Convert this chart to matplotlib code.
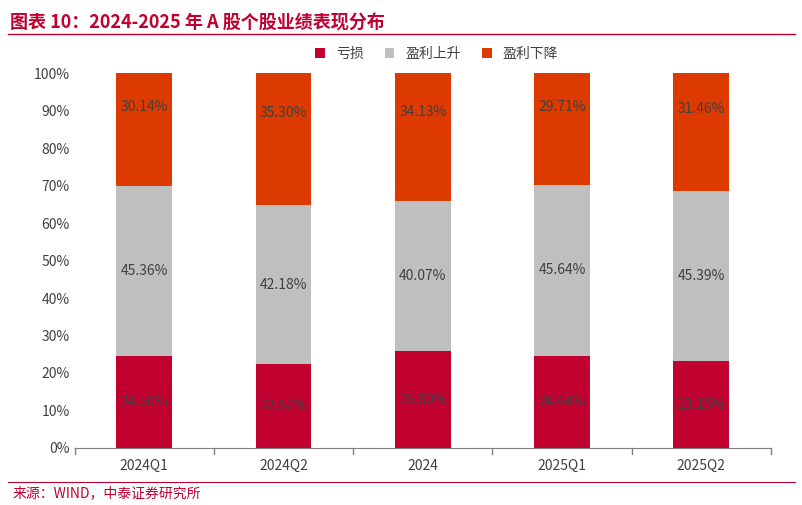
import matplotlib
matplotlib.use("Agg")
import matplotlib.pyplot as plt
from matplotlib.lines import Line2D
from matplotlib.ticker import PercentFormatter

plt.rcParams['font.family'] = ['Noto Sans CJK SC', 'DejaVu Sans']

categories = ["2024Q1", "2024Q2", "2024", "2025Q1", "2025Q2"]
loss = [24.50, 22.52, 25.80, 24.64, 23.15]
up = [45.36, 42.18, 40.07, 45.64, 45.39]
down = [30.14, 35.30, 34.13, 29.71, 31.46]
series_names = ["亏损", "盈利上升", "盈利下降"]
colors = ["#C0002F", "#BFBFBF", "#DD3A00"]

fig = plt.figure(figsize=(8.03, 5.05), dpi=100)
ax = fig.add_axes([0.093, 0.113, 0.867, 0.742])
x = range(len(categories))
bottom = [0]*len(categories)
for vals, name, c in zip([loss, up, down], series_names, colors):
    bars = ax.bar(x, vals, 0.4, bottom=bottom, color=c, label=name)
    for xi, v, b in zip(x, vals, bottom):
        ax.text(xi, b + v/2 + (v*0.2 if name == "盈利下降" else 0), f"{v:.2f}%",
                ha='center', va='center', fontsize=10, color='#404040')
    bottom = [b+v for b, v in zip(bottom, vals)]

ax.set_ylim(0, 100)
ax.set_xlim(-0.5, 4.5)
ax.set_yticks(range(0, 101, 10))
ax.yaxis.set_major_formatter(PercentFormatter(decimals=0))
ax.set_xticks(list(x))
ax.set_xticklabels(categories)
for s in ['top', 'right', 'left']:
    ax.spines[s].set_visible(False)
ax.spines['bottom'].set_color('#808080')
ax.tick_params(axis='y', length=0, labelsize=10, colors='#404040')
ax.tick_params(axis='x', length=0, labelsize=10, colors='#404040', pad=8)
for b in [i - 0.5 for i in range(6)]:
    ax.plot([b, b], [0, -1.5], color='#808080', lw=1, clip_on=False)

ax.legend(loc='lower center', bbox_to_anchor=(0.52, 1.0), ncol=3, frameon=False,
          fontsize=10, handlelength=0.7, handleheight=0.7, columnspacing=1.5,
          labelcolor='#404040')

fig.text(0.012, 0.955, "图表 10：2024-2025 年 A 股个股业绩表现分布", color='#C0002F',
         fontsize=13, fontweight='bold', style='italic', va='center')
fig.add_artist(Line2D([0.01, 0.99], [0.932, 0.932], color='#C0002F', lw=1))
fig.add_artist(Line2D([0.01, 0.99], [0.046, 0.046], color='#C0002F', lw=0.8))
fig.text(0.015, 0.024, "来源：WIND，中泰证券研究所", color='#C0002F', fontsize=10, va='center')

fig.savefig("out.png", dpi=100)
